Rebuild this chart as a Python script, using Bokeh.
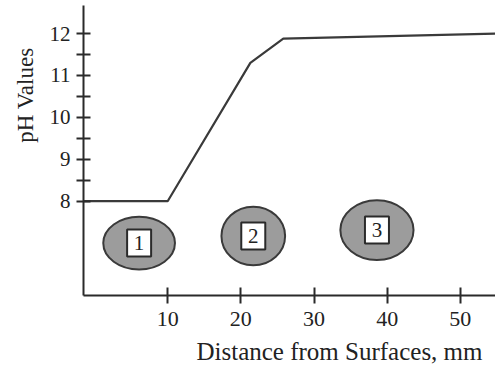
from bokeh.plotting import figure
from bokeh.models import ColumnDataSource, FixedTicker, Range1d, Title
from bokeh.core.properties import value
from bokeh.embed import file_html
from bokeh.resources import INLINE

# pH profile against distance from the surface
distance_mm = [-1.5, 10, 21.3, 25.8, 54.8]
ph_values = [8.0, 8.0, 11.3, 11.88, 12.0]

# numbered sampling zones
zone_labels = ["1", "2", "3"]
zone_x = [6.1, 21.7, 38.6]
zone_y = [7.0, 7.17, 7.31]
zone_w = [9.8, 8.7, 10.0]
zone_h = [1.26, 1.40, 1.43]

x_ticks = [10, 20, 30, 40, 50]
y_ticks = [8, 9, 10, 11, 12]
y_minor = [8.5, 9.5, 10.5, 11.5]

SERIF = "Liberation Serif"
INK = "#2a2a2a"

p = figure(width=495, height=372, output_backend="svg", toolbar_location=None,
           x_range=Range1d(-1.5, 54.8), y_range=Range1d(5.75, 12.67),
           min_border_left=83, min_border_right=0, min_border_top=5,
           min_border_bottom=77)
p.background_fill_color = "white"
p.border_fill_color = "white"
p.outline_line_color = None
p.grid.visible = False

for ax in (p.xaxis[0], p.yaxis[0]):
    ax.axis_line_color = INK
    ax.axis_line_width = 2
    ax.major_tick_line_color = INK
    ax.major_tick_line_width = 2
    ax.major_tick_in = 8
    ax.major_tick_out = 8
    ax.major_label_text_font = SERIF
    ax.major_label_text_font_size = "21px"
    ax.major_label_text_color = "#222222"

p.xaxis.major_label_text_font_size = "22px"
p.xaxis.ticker = FixedTicker(ticks=x_ticks)
p.xaxis.major_label_standoff = 8
p.yaxis.ticker = FixedTicker(ticks=y_ticks, minor_ticks=y_minor)
p.yaxis.minor_tick_line_color = INK
p.yaxis.minor_tick_line_width = 2
p.yaxis.minor_tick_in = 7
p.yaxis.minor_tick_out = 7
p.yaxis.major_tick_in = 7
p.yaxis.major_tick_out = 7
p.yaxis.major_label_standoff = 6

# zones drawn under the curve
zones = ColumnDataSource(dict(x=zone_x, y=zone_y, w=zone_w, h=zone_h, label=zone_labels))
p.ellipse(x="x", y="y", width="w", height="h", source=zones,
          fill_color="#9c9c9c", line_color="#3a3a3a", line_width=2)
p.rect(x="x", y="y", width=24, height=27, width_units="screen", height_units="screen",
       source=zones, fill_color="white", line_color="#2a2a2a", line_width=2)
p.text(x="x", y="y", text="label", source=zones, text_align="center",
       text_baseline="middle", text_font=value(SERIF), text_font_size="21px",
       text_color="#222222")

p.line(distance_mm, ph_values, line_color="#3a3a3a", line_width=2.2)

p.add_layout(Title(text="Distance from Surfaces, mm", align="right", offset=13,
                   text_font=SERIF, text_font_size="25px", text_font_style="normal",
                   text_color="#222222", standoff=14), "below")
p.add_layout(Title(text="pH Values", align="right", offset=42,
                   text_font=SERIF, text_font_size="23px", text_font_style="normal",
                   text_color="#222222", standoff=17), "left")

open("out.html", "w").write(file_html(p, INLINE))
